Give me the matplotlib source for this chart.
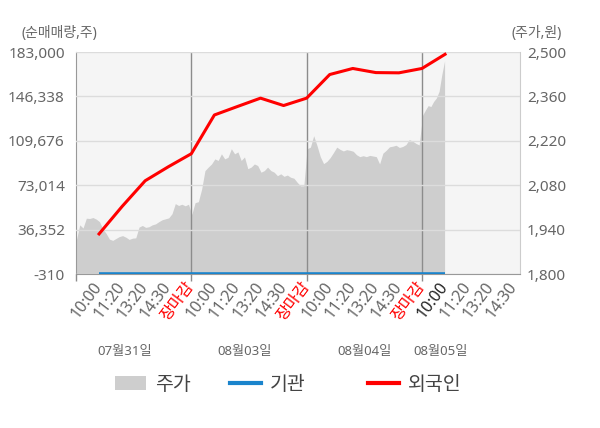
import numpy as np
import matplotlib
matplotlib.use("Agg")
import matplotlib.pyplot as plt
from matplotlib.patches import Patch
from matplotlib.lines import Line2D
from matplotlib.ticker import FuncFormatter

plt.rcParams['font.family'] = ['Noto Sans', 'Noto Sans CJK KR', 'DejaVu Sans']

# ---- data ----
dates = ['07월31일', '08월03일', '08월04일', '08월05일']
tick_labels = ['10:00', '11:20', '13:20', '14:30', '장마감',
               '10:00', '11:20', '13:20', '14:30', '장마감',
               '10:00', '11:20', '13:20', '14:30', '장마감',
               '10:00', '11:20', '13:20', '14:30']

price_day1 = [1908, 1955, 1945, 1976, 1975, 1978, 1973, 1965, 1942, 1928, 1910, 1906,
              1912, 1918, 1921, 1916, 1909, 1913, 1914, 1948, 1953, 1947, 1949, 1955,
              1958, 1965, 1971, 1974, 1977, 1990, 2022, 2016, 2020, 2015, 2020]
price_day2 = [1988, 2025, 2028, 2068, 2126, 2137, 2147, 2163, 2158, 2179, 2163, 2168,
              2195, 2179, 2185, 2158, 2169, 2132, 2137, 2147, 2142, 2121, 2126, 2137,
              2126, 2121, 2110, 2116, 2108, 2112, 2105, 2102, 2089, 2078, 2078]
price_day3 = [2195, 2200, 2236, 2205, 2170, 2148, 2155, 2167, 2183, 2200, 2193, 2188,
              2192, 2190, 2187, 2176, 2170, 2173, 2170, 2174, 2172, 2170, 2147, 2181,
              2190, 2201, 2203, 2206, 2199, 2202, 2208, 2224, 2219, 2212, 2207]
price_day4 = [2301, 2317, 2331, 2328, 2344, 2355, 2376, 2429, 2472]

foreign = [32800, 55500, 76700, 88200, 99000, 131000, 138000, 144900, 138800, 144900,
           164400, 169400, 166000, 165800, 169400, 181100]
institution = [0] * 16

left_ticks = [-310, 36352, 73014, 109676, 146338, 183000]
right_ticks = [1800, 1940, 2080, 2220, 2360, 2500]

GRAY_TXT = '#666666'

# ---- figure ----
fig = plt.figure(figsize=(6, 4.28), dpi=100)
ax = fig.add_axes([76/600, 1-274/428, 444/600, 222/428])
ax2 = ax.twinx()
ax.set_zorder(2)
ax2.set_zorder(1)
ax.patch.set_visible(False)
ax2.patch.set_visible(True)
ax2.patch.set_facecolor('#f5f5f5')

# price area
xs, ys = [], []
for d, day in enumerate([price_day1, price_day2, price_day3]):
    xs.append(np.linspace(d*5, d*5+5, len(day), endpoint=False) + 0.02)
    ys.append(np.array(day))
xs.append(np.linspace(15.03, 15.98, len(price_day4)))
ys.append(np.array(price_day4))
px = np.concatenate(xs)
py = np.concatenate(ys)
ax2.fill_between(px, 1800, py, color='#cecece', linewidth=0)
ax2.set_ylim(1800, 2500)
ax2.set_yticks(right_ticks)
ax2.yaxis.set_major_formatter(FuncFormatter(lambda v, p: f'{int(v):,}'))
ax2.tick_params(axis='y', length=0, pad=5, labelsize=11, labelcolor=GRAY_TXT)
for s in ax2.spines.values():
    s.set_visible(False)

# lines
lx = np.arange(1, 17)
ax.plot(lx, institution, color='#1a84cc', lw=2.6, solid_capstyle='butt', zorder=3)
ax.plot(lx, foreign, color='#ff0000', lw=2.2, zorder=4)
ax.set_ylim(-310, 183000)
ax.set_yticks(left_ticks)
ax.yaxis.set_major_formatter(FuncFormatter(lambda v, p: f'{int(v):,}'))
ax.tick_params(axis='y', length=0, pad=8, labelsize=11, labelcolor=GRAY_TXT)
ax.grid(axis='y', color='#dcdcdc', lw=1, zorder=1)
ax.set_axisbelow(False)
for xv in [5, 10, 15]:
    ax.axvline(xv, color='#8c8c8c', lw=1, zorder=2)

ax.set_xlim(0, 19.25)
ax.set_xticks(np.arange(1, 20))
ax.set_xticklabels(tick_labels)
ax.set_xticks([0, 5, 10, 15], minor=True)
ax.xaxis.remove_overlapping_locs = False
ax.tick_params(axis='x', which='major', length=0, pad=7, labelsize=11.5, labelcolor=GRAY_TXT)
ax.tick_params(axis='x', which='minor', length=5, color='#8c8c8c', width=1)
for i, t in enumerate(ax.get_xticklabels()):
    t.set_rotation(53)
    t.set_ha('right')
    t.set_va('center')
    t.set_rotation_mode('anchor')
    if tick_labels[i] == '장마감':
        t.set_color('#ff0000')
    elif i == 15:
        t.set_color('#222222')

for name, s in ax.spines.items():
    if name == 'top':
        s.set_visible(False)
    elif name == 'right':
        s.set_color('#cccccc')
    else:
        s.set_color('#999999')

# date labels
for xpx, lab in zip([125, 245, 365, 441], dates):
    fig.text(xpx/600, 1-352/428, lab, ha='center', va='center', fontsize=9.5, color=GRAY_TXT)

fig.text(22/600, 1-33/428, '(순매매량,주)', ha='left', va='center', fontsize=10, color=GRAY_TXT)
fig.text(562/600, 1-33/428, '(주가,원)', ha='right', va='center', fontsize=10, color=GRAY_TXT)

# legend: three entries placed individually
entries = [
    (115, Patch(facecolor='#cecece', edgecolor='none'), '주가'),
    (230, Line2D([], [], color='#1a84cc', lw=3), '기관'),
    (368, Line2D([], [], color='#ff0000', lw=3), '외국인'),
]
for xpx, h, lab in entries:
    fig.legend([h], [lab], loc='center left', bbox_to_anchor=(xpx/600, 1-385/428),
               frameon=False, fontsize=14, handlelength=1.6, handletextpad=0.45,
               borderpad=0, borderaxespad=0, labelcolor='#444444')

fig.savefig('out.png', dpi=100)
